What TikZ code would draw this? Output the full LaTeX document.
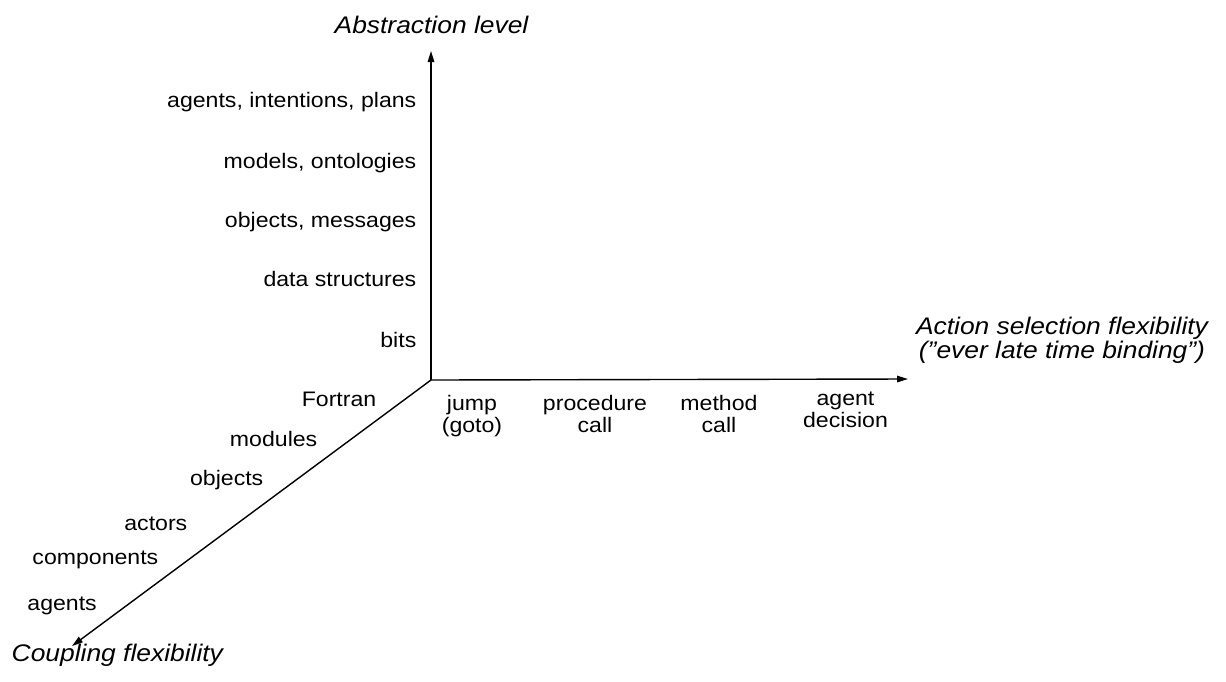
\documentclass[tikz,border=0pt]{standalone}
\usepackage{fontspec}
\setmainfont{Liberation Sans}[FakeStretch=1.1]
\usetikzlibrary{arrows.meta}
\begin{document}
\begin{tikzpicture}[x=1pt,y=-1pt,
  axis/.style={line width=1.4pt,-{Triangle[length=11pt,width=6.5pt]}},
  lbl/.style={inner sep=0pt,font=\fontsize{21}{22}\selectfont},
  ttl/.style={inner sep=0pt,font=\fontsize{24}{24}\selectfont\itshape},
  stack/.style={lbl,align=center,anchor=base}]
\useasboundingbox[fill=white] (0,0) rectangle (1226,681);

% axes
\coordinate (O) at (431,380);
\coordinate (ytip) at (431,51);
\coordinate (xtip) at (908,379);
\coordinate (ztip) at (72,646);
\draw[axis] (O) -- (ytip);
\draw[axis] (O) -- (xtip);
\draw[axis] (O) -- (ztip);

% axis titles
\node[ttl,anchor=base] (tabs) at (431.5,33) {Abstraction level};
\node[ttl,anchor=base,align=center] (tact) at (1062,358)
  {Action selection flexibility\\(\symbol{34}ever late time binding\symbol{34})};
\node[ttl,anchor=base west] (tcpl) at (11.5,661.5) {Coupling flexibility};

% abstraction levels
\node[lbl,anchor=base east] (a5) at (416.5,107) {agents, intentions, plans};
\node[lbl,anchor=base east] (a4) at (416.5,168) {models, ontologies};
\node[lbl,anchor=base east] (a3) at (416.5,227) {objects, messages};
\node[lbl,anchor=base east] (a2) at (416.5,286) {data structures};
\node[lbl,anchor=base east] (a1) at (416.5,347) {bits};

% coupling levels
\node[lbl,anchor=base east] (c1) at (376.5,406.5) {Fortran};
\node[lbl,anchor=base east] (c2) at (317.5,446) {modules};
\node[lbl,anchor=base east] (c3) at (263.5,485) {objects};
\node[lbl,anchor=base east] (c4) at (187.5,530) {actors};
\node[lbl,anchor=base east] (c5) at (158.5,564.5) {components};
\node[lbl,anchor=base east] (c6) at (97,610) {agents};

% action selection levels
\node[stack] (s1) at (472,432) {jump\\(goto)};
\node[stack] (s2) at (595,432) {procedure\\call};
\node[stack] (s3) at (719,432) {method\\call};
\node[stack] (s4) at (845.5,427) {agent\\decision};
\end{tikzpicture}
\end{document}
